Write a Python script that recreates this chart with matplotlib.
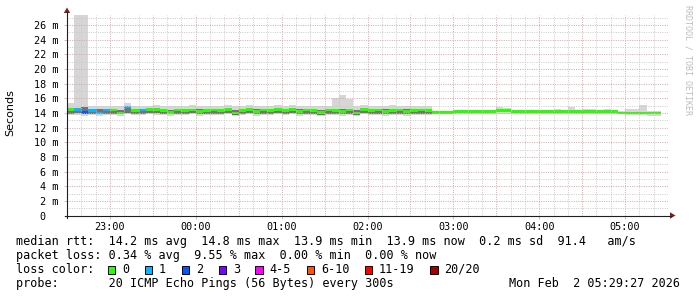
import matplotlib
matplotlib.use("Agg")
import matplotlib.pyplot as plt

W, H = 697, 297

# one value per 5 minute step, first step starts at 22:30
step_min = 5
median_ms = [14.5, 14.5, 14.1, 14.35, 14.0, 14.4, 14.4, 14.0, 14.8, 14.3,
             14.4, 14.45, 14.5, 14.3, 14.1, 14.4, 14.3, 14.4, 14.2, 14.3,
             14.4, 14.3, 14.5, 14.0, 14.3, 14.5, 14.2, 14.4, 14.3, 14.5,
             14.3, 14.5, 14.2, 14.4, 14.3, 14.1, 14.4, 14.3, 14.2, 14.4,
             14.0, 14.5, 14.3, 14.4, 14.2, 14.3, 14.4, 14.2, 14.3, 14.4,
             14.3,
             14.1, 14.1, 14.1, 14.2, 14.2, 14.2, 14.2, 14.2, 14.2, 14.3,
             14.3, 14.2, 14.2, 14.2, 14.2, 14.2, 14.2, 14.2, 14.2, 14.2,
             14.2, 14.2, 14.2, 14.2, 14.2, 14.2, 14.0, 14.0, 14.0, 14.0,
             14.0, 14.0]
# index into loss_colors
loss_idx = [0, 1, 2, 1, 1, 1, 0, 0, 1, 0, 1, 0, 0, 0, 0, 0, 0, 0, 0, 0,
            0, 0, 0, 0, 0, 0, 0, 0, 0, 0, 0, 0, 0, 0, 0, 0, 0, 0, 0, 0,
            0, 0, 0, 0, 0, 0, 0, 0, 0, 0, 0, 0, 0, 0, 0, 0, 0, 0, 0, 0,
            0, 0, 0, 0, 0, 0, 0, 0, 0, 0, 0, 0, 0, 0, 0, 0, 0, 0, 0, 0,
            0, 0, 0]
smoke_lo = [13.7, 13.7, 13.6, 13.7, 13.6, 13.7, 13.7, 13.6, 13.8, 13.7,
            13.7, 13.8, 13.7, 13.7, 13.6, 13.7, 13.7, 13.8, 13.6, 13.7,
            13.7, 13.7, 13.8, 13.6, 13.7, 13.8, 13.6, 13.7, 13.7, 13.8,
            13.7, 13.8, 13.6, 13.7, 13.7, 13.6, 13.7, 13.7, 13.6, 13.7,
            13.6, 13.8, 13.7, 13.7, 13.6, 13.7, 13.7, 13.6, 13.7, 13.7,
            13.7,
            13.9, 13.9, 13.9, 13.8, 13.9, 13.9, 13.9, 13.9, 13.9, 13.9,
            13.9, 13.8, 13.9, 13.9, 13.9, 13.9, 13.9, 13.9, 13.9, 13.9,
            13.9, 13.9, 13.9, 13.9, 13.9, 13.9, 13.8, 13.7, 13.7, 13.7,
            13.6, 13.6]
smoke_hi = [15.3, 27.3, 27.3, 15.0, 14.9, 15.0, 15.0, 14.9, 15.3, 15.0,
            15.0, 15.0, 15.1, 15.0, 15.0, 15.0, 15.0, 15.1, 14.9, 15.0,
            15.0, 15.0, 15.1, 14.9, 15.0, 15.1, 14.9, 15.0, 15.0, 15.1,
            15.0, 15.1, 14.9, 15.0, 15.0, 14.9, 15.0, 16.1, 16.4, 15.9,
            14.9, 15.1, 15.0, 14.9, 15.0, 15.1, 15.0, 14.9, 15.0, 15.0,
            14.9,
            14.3, 14.3, 14.3, 14.3, 14.3, 14.3, 14.3, 14.3, 14.3, 14.8,
            14.7, 14.4, 14.3, 14.3, 14.3, 14.3, 14.3, 14.6, 14.3, 14.8,
            14.3, 14.5, 14.5, 14.3, 14.5, 14.3, 14.3, 14.6, 14.5, 15.1,
            14.3, 14.3]
# darker inner smoke, only where the 20 pings were spread
core_lo = [13.9, 14.0, 13.9, 13.9, 13.8, 13.9, 13.9, 13.8, 14.0, 13.9,
           13.9, 14.0, 14.0, 13.9, 13.8, 13.9, 13.9, 14.0, 13.8, 13.9,
           13.9, 13.9, 14.0, 13.7, 13.9, 14.0, 13.8, 13.9, 13.9, 14.0,
           13.9, 14.0, 13.8, 13.9, 13.9, 13.7, 13.9, 13.9, 13.8, 13.9,
           13.7, 14.0, 13.9, 13.9, 13.8, 13.9, 13.9, 13.8, 13.9, 13.9,
           13.9]
core_hi = [14.7, 14.7, 14.8, 14.6, 14.6, 14.6, 14.6, 14.4, 14.9, 14.5,
           14.6, 14.7, 14.7, 14.5, 14.4, 14.6, 14.5, 14.6, 14.5, 14.6,
           14.6, 14.6, 14.7, 14.4, 14.5, 14.7, 14.5, 14.6, 14.6, 14.7,
           14.5, 14.7, 14.5, 14.6, 14.6, 14.4, 14.6, 14.6, 14.5, 14.6,
           14.4, 14.7, 14.6, 14.6, 14.5, 14.6, 14.6, 14.5, 14.6, 14.6,
           14.6]

loss_labels = ['0', '1', '2', '3', '4-5', '6-10', '11-19', '20/20']
loss_colors = ['#26ff00', '#00b8ff', '#0059ff', '#7e00ff',
               '#ff00fe', '#ff5500', '#ff0000', '#a10000']
hour_pos = [30, 90, 150, 210, 270, 330, 390]
hour_labels = ['23:00', '00:00', '01:00', '02:00', '03:00', '04:00', '05:00']
y_ticks = [0, 2, 4, 6, 8, 10, 12, 14, 16, 18, 20, 22, 24, 26]

legend_lines = [
    'median rtt:  14.2 ms avg  14.8 ms max  13.9 ms min  13.9 ms now  0.2 ms sd  91.4   am/s',
    'packet loss: 0.34 % avg  9.55 % max  0.00 % min  0.00 % now',
]
probe_text = 'probe:       20 ICMP Echo Pings (56 Bytes) every 300s'
stamp_text = 'Mon Feb  2 05:29:27 2026'

MONO = 'DejaVu Sans Mono'

# pixel layout of the canvas
X0, X1 = 67, 668
Y0, YTOP = 215.5, 14.7
YMAX = 27.4

fig = plt.figure(figsize=(W / 100, H / 100), dpi=100)
fig.patch.set_facecolor('white')
ax = fig.add_axes([X0 / W, (H - Y0) / H, (X1 - X0) / W, (Y0 - YTOP) / H])
ax.set_xlim(0, 420)
ax.set_ylim(0, YMAX)
for s in ax.spines.values():
    s.set_visible(False)

left = [i * step_min for i in range(len(median_ms))]
ax.bar(left, [h - l for h, l in zip(smoke_hi, smoke_lo)], bottom=smoke_lo,
       width=step_min, align='edge', color='#d6d6d6', linewidth=0, zorder=1)
nd = len(core_lo)
ax.bar(left[:nd], [h - l for h, l in zip(core_hi, core_lo)], bottom=core_lo,
       width=step_min, align='edge', color='#737373', linewidth=0, zorder=2)
ax.bar(left, 0.38, bottom=[m - 0.19 for m in median_ms], width=step_min,
       align='edge', color=[loss_colors[i] for i in loss_idx],
       linewidth=0, zorder=3)

# grid: 10 min minor, 30 min major; 1 ms minor, 2 ms major
dots = (0, (1, 1.4))
for t in range(10, 420, 10):
    c = '#e4a0a0' if t % 30 == 0 else '#c9c9c9'
    ax.axvline(t, color=c, lw=0.7, ls=dots, zorder=4)
for v in range(1, 28):
    c = '#e4a0a0' if v % 2 == 0 else '#c9c9c9'
    ax.axhline(v, color=c, lw=0.7, ls=dots, zorder=4)

ax.set_xticks(hour_pos)
ax.set_xticklabels(hour_labels, fontfamily=MONO, fontsize=7.3)
ax.set_yticks(y_ticks)
ax.set_yticklabels(['0  '] + ['%d m' % v for v in y_ticks[1:]],
                   fontfamily=MONO, fontsize=7.3)
ax.tick_params(axis='x', length=2, color='#c8c8c8', pad=2.5)
ax.tick_params(axis='y', length=2, color='#c8c8c8', pad=4)

# overlay in pixel coordinates for axes arrows and legend text
ov = fig.add_axes([0, 0, 1, 1], zorder=10)
ov.set_xlim(0, W)
ov.set_ylim(H, 0)
ov.axis('off')
ov.patch.set_alpha(0)

ov.plot([X0, X0], [Y0 + 2, 12], color='#1f1f1f', lw=0.8)
ov.plot([X0 - 2, 671], [Y0, Y0], color='#1f1f1f', lw=0.8)
ov.fill([X0 - 3.2, X0 + 3.2, X0], [13, 13, 7.5], color='#7f1f1f', lw=0)
ov.fill([670, 670, 675.5], [Y0 - 3.2, Y0 + 3.2, Y0], color='#7f1f1f', lw=0)

ov.text(10, 113, 'Seconds', rotation=90, ha='center', va='center',
        fontsize=8, fontfamily='DejaVu Sans')
ov.text(688, 5, 'RRDTOOL / TOBI OETIKER', rotation=-90, ha='center',
        va='top', fontsize=6, fontfamily=MONO, color='#bdbdbd')

CW = 7.1
TX = 15.5
ov.text(TX, 241.5, legend_lines[0], fontsize=8.5, fontfamily=MONO, va='center')
ov.text(TX, 255.5, legend_lines[1], fontsize=8.5, fontfamily=MONO, va='center')
ov.text(TX, 269.5, 'loss color:', fontsize=8.5, fontfamily=MONO, va='center')
cur = 13
for lab, col in zip(loss_labels, loss_colors):
    bx = TX + cur * CW
    ov.add_patch(plt.Rectangle((bx, 265.5), 7.5, 8, facecolor=col,
                               edgecolor='black', lw=0.7))
    ov.text(TX + (cur + 2) * CW, 269.5, lab, fontsize=8.5, fontfamily=MONO,
            va='center')
    cur = cur + 2 + len(lab) + 2.2
ov.text(TX, 283.5, probe_text, fontsize=8.5, fontfamily=MONO, va='center')
ov.text(680, 283.5, stamp_text, fontsize=8.5, fontfamily=MONO, va='center',
        ha='right')

fig.savefig('out.png', dpi=100, facecolor='white')
